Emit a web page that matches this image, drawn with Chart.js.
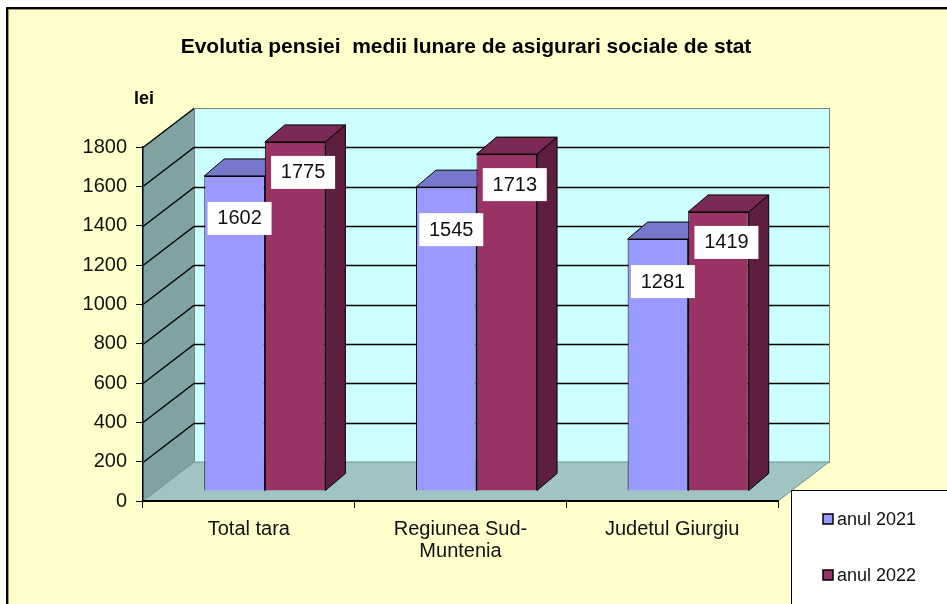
<!DOCTYPE html>
<html>
<head>
<meta charset="utf-8">
<script src="https://cdn.jsdelivr.net/npm/chart.js@4/dist/chart.umd.min.js"></script>
<style>
  html, body { margin: 0; padding: 0; background: #fff; }
  #wrap { width: 947px; height: 604px; }
</style>
</head>
<body>
<div id="wrap"><canvas id="pensionChart" width="947" height="604"></canvas></div>
<script>
// Data
const categories = ['Total tara', ['Regiunea Sud-', 'Muntenia'], 'Judetul Giurgiu'];
const seriesNames = ['anul 2021', 'anul 2022'];
const values2021 = [1602, 1545, 1281];
const values2022 = [1775, 1713, 1419];
const yMax = 1800;
const yStep = 200;
const chartTitle = 'Evolutia pensiei  medii lunare de asigurari sociale de stat';
const unitLabel = 'lei';

const FONT = '"Liberation Sans", Arial, sans-serif';

// Fake 3D geometry (pixels)
const DX = 51, DY = -39;             // depth of the box (walls, floor)
const SHIFT_X = 16, SHIFT_Y = -10;   // bars sit a little inside the box
const BAR_DX = 20, BAR_DY = -17;     // depth of each bar

const frontColors = ['#9999FF', '#993366'];
const topColors = ['#7777CC', '#7A2A54'];
const sideColors = ['#6666AA', '#5E1E40'];
const labelOffsets = [[5, 42], [8, 30]];

// Background, frame, side wall, back wall and floor
const wallsPlugin = {
    id: 'walls',
    beforeDraw(chart) {
        const { ctx, chartArea: a } = chart;
        const y = chart.scales.y;
        const top = y.getPixelForValue(yMax);
        const bot = y.getPixelForValue(0);

        ctx.save();
        ctx.fillStyle = '#fff';
        ctx.fillRect(0, 0, chart.width, chart.height);
        ctx.fillStyle = '#FFFFCC';
        ctx.fillRect(7, 8, chart.width, chart.height);
        ctx.fillStyle = '#000';
        ctx.fillRect(6, 7, 2, chart.height);
        ctx.fillRect(6, 7, chart.width, 2);
        ctx.fillStyle = '#9a9a7a';
        ctx.fillRect(8, 9, 1, chart.height);
        ctx.fillRect(8, 9, chart.width, 1);

        // back wall
        ctx.fillStyle = '#CCFFFF';
        ctx.fillRect(a.left + DX, top + DY, a.right - a.left, bot - top);
        ctx.strokeStyle = '#808080';
        ctx.lineWidth = 1;
        ctx.strokeRect(a.left + DX + 0.5, top + DY + 0.5, a.right - a.left, bot - top);

        // side wall
        ctx.fillStyle = '#80A2A2';
        ctx.beginPath();
        ctx.moveTo(a.left, top);
        ctx.lineTo(a.left + DX, top + DY);
        ctx.lineTo(a.left + DX, bot + DY);
        ctx.lineTo(a.left, bot);
        ctx.closePath();
        ctx.fill();

        // floor
        ctx.fillStyle = '#A0C4C4';
        ctx.beginPath();
        ctx.moveTo(a.left, bot);
        ctx.lineTo(a.left + DX, bot + DY);
        ctx.lineTo(a.right + DX, bot + DY);
        ctx.lineTo(a.right, bot);
        ctx.closePath();
        ctx.fill();
        ctx.strokeStyle = '#6f8f8f';
        ctx.stroke();

        // grid lines on back wall + diagonals on side wall
        ctx.strokeStyle = '#000';
        ctx.lineWidth = 1.3;
        for (let v = yStep; v <= yMax; v += yStep) {
            const py = Math.round(y.getPixelForValue(v)) + 0.5;
            ctx.beginPath();
            ctx.moveTo(a.left, py);
            ctx.lineTo(a.left + DX, py + DY);
            if (v < yMax) ctx.lineTo(a.right + DX, py + DY);
            ctx.stroke();
        }
        ctx.restore();
    }
};

// Top and side faces of the bars, then shift the front faces
const barsPlugin = {
    id: 'bars3d',
    beforeDatasetsDraw(chart) {
        const ctx = chart.ctx;
        ctx.save();
        ctx.translate(SHIFT_X, SHIFT_Y);
        ctx.strokeStyle = '#000';
        ctx.lineWidth = 1;
        chart.data.datasets.forEach((ds, i) => {
            chart.getDatasetMeta(i).data.forEach(bar => {
                const l = bar.x - bar.width / 2, r = bar.x + bar.width / 2;
                const t = bar.y, b = bar.base;
                ctx.fillStyle = sideColors[i];
                ctx.beginPath();
                ctx.moveTo(r, t);
                ctx.lineTo(r + BAR_DX, t + BAR_DY);
                ctx.lineTo(r + BAR_DX, b + BAR_DY);
                ctx.lineTo(r, b);
                ctx.closePath();
                ctx.fill();
                ctx.stroke();
                ctx.fillStyle = topColors[i];
                ctx.beginPath();
                ctx.moveTo(l, t);
                ctx.lineTo(l + BAR_DX, t + BAR_DY);
                ctx.lineTo(r + BAR_DX, t + BAR_DY);
                ctx.lineTo(r, t);
                ctx.closePath();
                ctx.fill();
                ctx.stroke();
            });
        });
    },
    afterDatasetsDraw(chart) {
        const ctx = chart.ctx;
        // value labels in white boxes
        ctx.font = '20px ' + FONT;
        ctx.textAlign = 'center';
        ctx.textBaseline = 'middle';
        chart.data.datasets.forEach((ds, i) => {
            chart.getDatasetMeta(i).data.forEach((bar, j) => {
                const cx = bar.x + labelOffsets[i][0];
                const cy = bar.y + labelOffsets[i][1];
                ctx.fillStyle = '#fff';
                ctx.fillRect(cx - 32, cy - 16, 64, 33);
                ctx.fillStyle = '#111';
                ctx.fillText(String(ds.data[j]), cx, cy + 1);
            });
        });
        ctx.restore();
    },
    afterDraw(chart) {
        const ctx = chart.ctx;
        ctx.save();
        // title and unit label
        ctx.fillStyle = '#000';
        ctx.font = 'bold 21px ' + FONT;
        ctx.textAlign = 'center';
        ctx.textBaseline = 'middle';
        ctx.fillText(chartTitle, 466, 47);
        ctx.font = 'bold 18px ' + FONT;
        ctx.textAlign = 'left';
        ctx.textBaseline = 'alphabetic';
        ctx.fillText(unitLabel, 134, 104);

        // legend box
        ctx.fillStyle = '#fff';
        ctx.fillRect(791, 490, 200, 200);
        ctx.strokeStyle = '#000';
        ctx.lineWidth = 1;
        ctx.strokeRect(791.5, 490.5, 200, 200);
        ctx.font = '18px ' + FONT;
        ctx.textBaseline = 'middle';
        const rows = [519, 575];
        seriesNames.forEach((name, i) => {
            ctx.fillStyle = frontColors[i];
            ctx.fillRect(823, rows[i] - 5, 10, 10);
            ctx.lineWidth = 1.5;
            ctx.strokeRect(823, rows[i] - 5, 10, 10);
            ctx.fillStyle = '#111';
            ctx.fillText(name, 837, rows[i] + 1);
        });
        ctx.restore();
    }
};

new Chart(document.getElementById('pensionChart'), {
    type: 'bar',
    data: {
        labels: categories,
        datasets: [
            {
                label: seriesNames[0],
                data: values2021,
                backgroundColor: frontColors[0],
                borderColor: '#000',
                borderWidth: 1,
                categoryPercentage: 0.572,
                barPercentage: 1,
                clip: false
            },
            {
                label: seriesNames[1],
                data: values2022,
                backgroundColor: frontColors[1],
                borderColor: '#000',
                borderWidth: 1,
                categoryPercentage: 0.572,
                barPercentage: 1,
                clip: false
            }
        ]
    },
    options: {
        responsive: false,
        devicePixelRatio: 1,
        animation: false,
        layout: { padding: { left: 0, right: 169, top: 147, bottom: 0 } },
        plugins: {
            legend: { display: false },
            tooltip: { enabled: false },
            title: { display: false }
        },
        scales: {
            x: {
                grid: { drawOnChartArea: false, drawTicks: true, tickLength: 7, color: '#000', offset: true },
                border: { color: '#000', width: 2 },
                ticks: {
                    color: '#111',
                    font: { family: FONT, size: 20, lineHeight: 1.1 },
                    padding: 10,
                    maxRotation: 0,
                    autoSkip: false
                },
                afterFit(scale) { scale.height = 103; }
            },
            y: {
                min: 0,
                max: yMax,
                grid: { drawOnChartArea: false, drawTicks: true, tickLength: 7, color: '#000' },
                border: { color: '#000', width: 1.5 },
                ticks: {
                    stepSize: yStep,
                    color: '#111',
                    font: { family: FONT, size: 20 },
                    padding: 9,
                    callback: (v) => String(v)
                },
                afterFit(scale) { scale.width = 143; }
            }
        }
    },
    plugins: [wallsPlugin, barsPlugin]
});
</script>
</body>
</html>
